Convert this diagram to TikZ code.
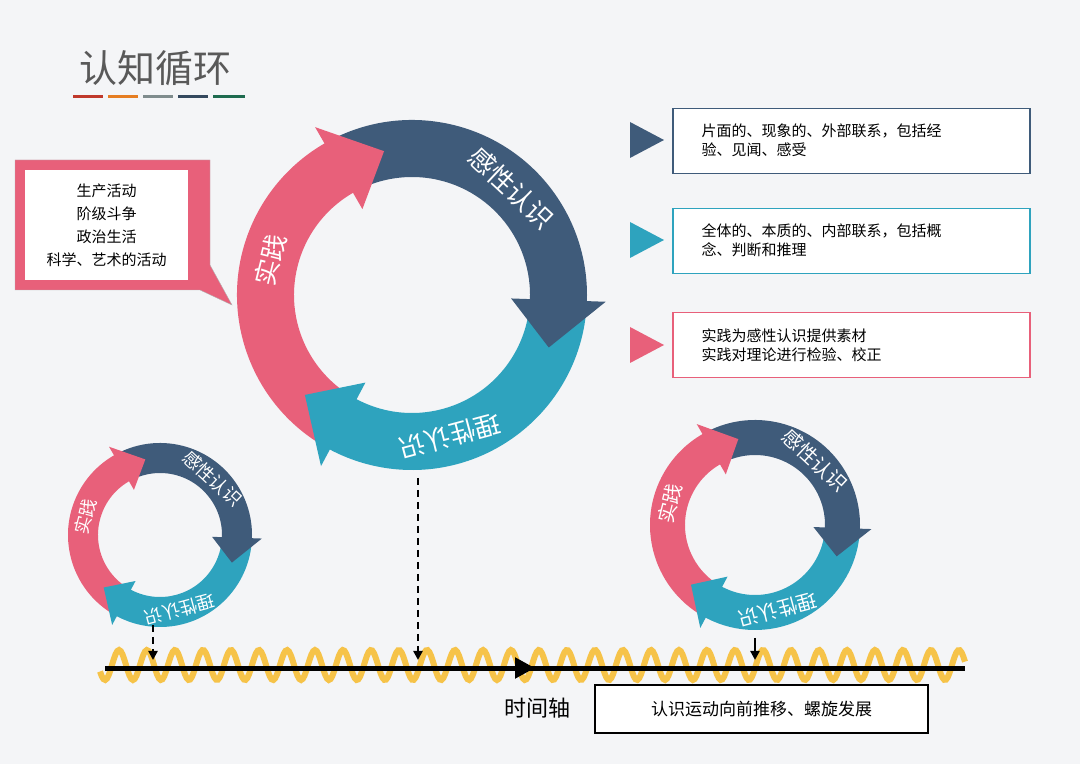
\documentclass[tikz,border=0pt]{standalone}
\usepackage{fontspec}
\setmainfont{Noto Sans CJK SC}
\usetikzlibrary{arrows.meta}
\definecolor{pk}{HTML}{E8607A}
\definecolor{db}{HTML}{3F5B7A}
\definecolor{tl}{HTML}{2EA3BE}
\definecolor{bg}{HTML}{F4F5F7}
\definecolor{yl}{HTML}{F6C349}
% body: R r start end color
\newcommand\mybody[5]{%
\fill[#5] (#3:#1) arc[start angle=#3,end angle=#4,radius=#1] -- (#4:#2) arc[start angle=#4,end angle=#3,radius=#2] -- cycle;}
% head: R r base tip color
\newcommand\myhead[5]{%
\fill[#5] (#3:{#1+0.33*(#1-#2)}) -- (#4:{(#1+#2)/2}) -- (#3:{#2-0.33*(#1-#2)}) -- cycle;}
\newcommand\mycycle[2]{%
\mybody{#1}{#2}{240}{118}{pk}
\mybody{#1}{#2}{118}{-4}{db}
\mybody{#1}{#2}{-4}{-120}{tl}
\myhead{#1}{#2}{120}{101}{pk}
\myhead{#1}{#2}{-2}{-21}{db}
\myhead{#1}{#2}{-118}{-137}{tl}}
\tikzset{
 lab/.style={text=white,inner sep=0},
 lbox/.style={draw=#1,line width=1.5pt,fill=white,minimum width=357pt,minimum height=65pt,anchor=north west},
 ltxt/.style={font=\fontsize{15}{19}\selectfont,align=left,anchor=west,text=black},
 darr/.style={line width=2.5pt,dash pattern=on 7pt off 5pt,-{Triangle[length=9pt,width=9pt]}},
}
\begin{document}
\begin{tikzpicture}[x=1pt,y=1pt]
\useasboundingbox (0,0) rectangle (1080,764);
\fill[bg] (0,0) rectangle (1080,764);
% title
\node[text=black!65,font=\fontsize{38}{40}\selectfont] (title) at (155,696) {认知循环};
\foreach \a/\b/\c in {73/103/C0392B,108/138/E67E22,143/173/7F8C8D,178/208/34495E,213/245/1E6B4F}{
  \definecolor{ul}{HTML}{\c}
  \draw[line width=3pt,ul] (\a,667) -- (\b,667);}
% big cycle
\begin{scope}[shift={(412,469)}]
\mycycle{175}{118}
\node[lab,rotate=-43,font=\fontsize{26}{28}\selectfont] (b1) at (47:146) {感性认识};
\node[lab,rotate=76,font=\fontsize{26}{28}\selectfont] (b2) at (166:146) {实践};
\node[lab,rotate=-165,font=\fontsize{26}{28}\selectfont] (b3) at (-75:146) {理性认识};
\end{scope}
% small left
\begin{scope}[shift={(160,229)}]
\mycycle{92}{62}
\node[lab,rotate=-43,font=\fontsize{18}{20}\selectfont] (s1) at (47:77) {感性认识};
\node[lab,rotate=76,font=\fontsize{18}{20}\selectfont] (s2) at (166:77) {实践};
\node[lab,rotate=-165,font=\fontsize{18}{20}\selectfont] (s3) at (-75:77) {理性认识};
\end{scope}
% small right
\begin{scope}[shift={(755,239)}]
\mycycle{105}{70}
\node[lab,rotate=-43,font=\fontsize{20}{22}\selectfont] (r1) at (47:88) {感性认识};
\node[lab,rotate=76,font=\fontsize{20}{22}\selectfont] (r2) at (166:88) {实践};
\node[lab,rotate=-165,font=\fontsize{20}{22}\selectfont] (r3) at (-75:88) {理性认识};
\end{scope}
% callout
\fill[pk,draw=black!30] (15,604) -- (210,604) -- (210,499) -- (232,459) -- (200,474) -- (15,474) -- cycle;
\node[fill=white,minimum width=163pt,minimum height=110pt,align=center,font=\fontsize{15}{23}\selectfont] (acts) at (106.5,539) {生产活动\\阶级斗争\\政治生活\\科学、艺术的活动};
% legend
\node[lbox=db] (k1) at (672,656) {};
\node[lbox=tl] (k2) at (672,556) {};
\node[lbox=pk] (k3) at (672,452) {};
\fill[db] (630,642) -- (630,606) -- (664,624) -- cycle;
\fill[tl] (630,542) -- (630,506) -- (664,524) -- cycle;
\fill[pk] (630,437) -- (630,401) -- (664,419) -- cycle;
\node[ltxt] (t1) at (698,624) {片面的、现象的、外部联系，包括经\\验、见闻、感受};
\node[ltxt] (t2) at (698,524) {全体的、本质的、内部联系，包括概\\念、判断和推理};
\node[ltxt] (t3) at (698,419) {实践为感性认识提供素材\\实践对理论进行检验、校正};
% timeline
\draw[yl,line width=6pt] plot[domain=100:965,samples=500] (\x,{99+15*sin(\x/28*360)});
\coordinate (ta) at (105,96);
\coordinate (tm) at (535,96);
\coordinate (tb) at (965,96);
\draw[line width=5pt] (ta) -- (tb);
\draw[line width=5pt,-{Triangle[length=20pt,width=20pt]}] (ta) -- (tm);
\coordinate (d1a) at (418,286); \coordinate (d1b) at (418,104);
\coordinate (d2a) at (153,139); \coordinate (d2b) at (153,104);
\coordinate (d3a) at (755,126); \coordinate (d3b) at (755,104);
\draw[darr] (d1a) -- (d1b);
\draw[darr] (d2a) -- (d2b);
\draw[line width=2.5pt,-{Triangle[length=9pt,width=9pt]}] (d3a) -- (d3b);
\node[font=\fontsize{22}{24}\selectfont] (axis) at (537,56) {时间轴};
\node[draw,line width=1.5pt,fill=white,minimum width=333pt,minimum height=48pt,font=\fontsize{17}{20}\selectfont] (dev) at (761.5,55) {认识运动向前推移、螺旋发展};
\end{tikzpicture}
\end{document}
